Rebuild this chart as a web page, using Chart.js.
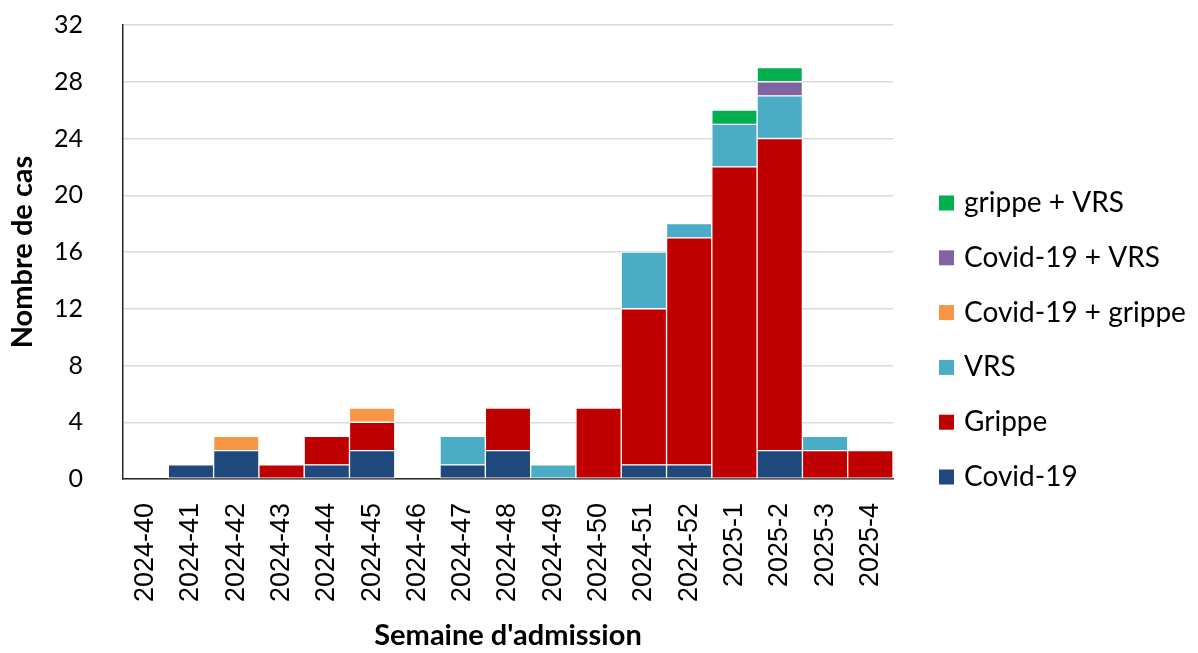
<!DOCTYPE html>
<html lang="fr">
<head>
<meta charset="utf-8">
<title>Nombre de cas par semaine d'admission</title>
<script src="https://cdn.jsdelivr.net/npm/chart.js@4/dist/chart.umd.min.js"></script>
<style>
  html, body { margin: 0; padding: 0; background: #ffffff; }
  #wrap { width: 1198px; height: 653px; }
</style>
</head>
<body>
<div id="wrap"><canvas id="chart" width="1198" height="653"></canvas></div>
<script>
// Semaines d'admission
const semaines = ['2024-40','2024-41','2024-42','2024-43','2024-44','2024-45','2024-46','2024-47','2024-48',
                  '2024-49','2024-50','2024-51','2024-52','2025-1','2025-2','2025-3','2025-4'];

// Nombre de cas par agent, empilés de bas en haut
const covid19       = [0, 1, 2, 0, 1, 2, 0, 1, 2, 0, 0, 1, 1, 0, 2, 0, 0];
const grippe        = [0, 0, 0, 1, 2, 2, 0, 0, 3, 0, 5, 11, 16, 22, 22, 2, 2];
const vrs           = [0, 0, 0, 0, 0, 0, 0, 2, 0, 1, 0, 4, 1, 3, 3, 1, 0];
const covidGrippe   = [0, 0, 1, 0, 0, 1, 0, 0, 0, 0, 0, 0, 0, 0, 0, 0, 0];
const covidVrs      = [0, 0, 0, 0, 0, 0, 0, 0, 0, 0, 0, 0, 0, 0, 1, 0, 0];
const grippeVrs     = [0, 0, 0, 0, 0, 0, 0, 0, 0, 0, 0, 0, 0, 1, 1, 0, 0];

// Graduations de l'axe vertical
const yTicks = [0, 4, 8, 12, 16, 20, 24, 28, 32];

const series = [
  { label: 'Covid-19',          values: covid19,     color: '#1F497D' },
  { label: 'Grippe',            values: grippe,      color: '#C00000' },
  { label: 'VRS',               values: vrs,         color: '#4BACC6' },
  { label: 'Covid-19 + grippe', values: covidGrippe, color: '#F79646' },
  { label: 'Covid-19 + VRS',    values: covidVrs,    color: '#8064A2' },
  { label: 'grippe + VRS',      values: grippeVrs,   color: '#00B050' }
];

const uiFont = 'Lato, Carlito, Calibri, "Open Sans", sans-serif';

// Légende à droite, de haut en bas dans l'ordre inverse des séries
const sideLegend = {
  id: 'sideLegend',
  afterDraw(chart) {
    const { ctx, chartArea } = chart;
    const sets = chart.data.datasets.slice().reverse();
    const step = 54.8;
    const box = 15;
    const boxX = chartArea.right + 46;
    const textX = boxX + box + 10;
    const lastY = chartArea.bottom - 2;
    ctx.save();
    ctx.font = '28px ' + uiFont;
    ctx.textBaseline = 'middle';
    ctx.textAlign = 'left';
    sets.forEach((ds, i) => {
      const cy = lastY - (sets.length - 1 - i) * step;
      ctx.fillStyle = ds.backgroundColor;
      ctx.fillRect(boxX, cy - box / 2, box, box);
      ctx.fillStyle = '#000000';
      ctx.fillText(ds.label, textX, cy);
    });
    ctx.restore();
  }
};

new Chart(document.getElementById('chart'), {
  type: 'bar',
  data: {
    labels: semaines,
    datasets: series.map(s => ({
      label: s.label,
      data: s.values.map(v => (v === 0 ? null : v)),
      backgroundColor: s.color,
      borderColor: '#ffffff',
      borderWidth: 1,
      borderSkipped: false,
      categoryPercentage: 1.0,
      barPercentage: 1.0
    }))
  },
  options: {
    responsive: false,
    devicePixelRatio: 1,
    animation: false,
    layout: { padding: { top: 25, right: 305, bottom: 0, left: 0 } },
    plugins: {
      legend: { display: false },
      tooltip: { enabled: false }
    },
    scales: {
      x: {
        stacked: true,
        z: 1,
        grid: { display: false, drawTicks: false },
        border: { display: true, color: '#262626', width: 1.5 },
        ticks: {
          color: '#000000',
          font: { family: '"Liberation Sans", Arial, sans-serif', size: 27 },
          minRotation: 90,
          maxRotation: 90,
          autoSkip: false,
          padding: 24
        },
        title: {
          display: true,
          text: "Semaine d'admission",
          color: '#000000',
          font: { family: uiFont, size: 29, weight: 'bold' },
          padding: { top: 0, bottom: 0 }
        },
        afterFit(scale) {
          scale.height = 174;
          scale.paddingLeft = 0;
          scale.paddingRight = 0;
        }
      },
      y: {
        stacked: true,
        min: 0,
        max: 32,
        afterBuildTicks(scale) { scale.ticks = yTicks.map(v => ({ value: v })); },
        grid: { color: '#D9D9D9', lineWidth: 1.5, drawTicks: false },
        border: { display: true, color: '#262626', width: 1.5 },
        ticks: {
          color: '#000000',
          font: { family: uiFont, size: 25 },
          padding: 40
        },
        title: {
          display: true,
          text: 'Nombre de cas',
          color: '#000000',
          font: { family: uiFont, size: 29, weight: 'bold' },
          padding: { top: 5, bottom: 0 }
        },
        afterFit(scale) {
          scale.width = 123;
          scale.paddingTop = 0;
          scale.paddingBottom = 0;
        }
      }
    }
  },
  plugins: [sideLegend]
});
</script>
</body>
</html>
